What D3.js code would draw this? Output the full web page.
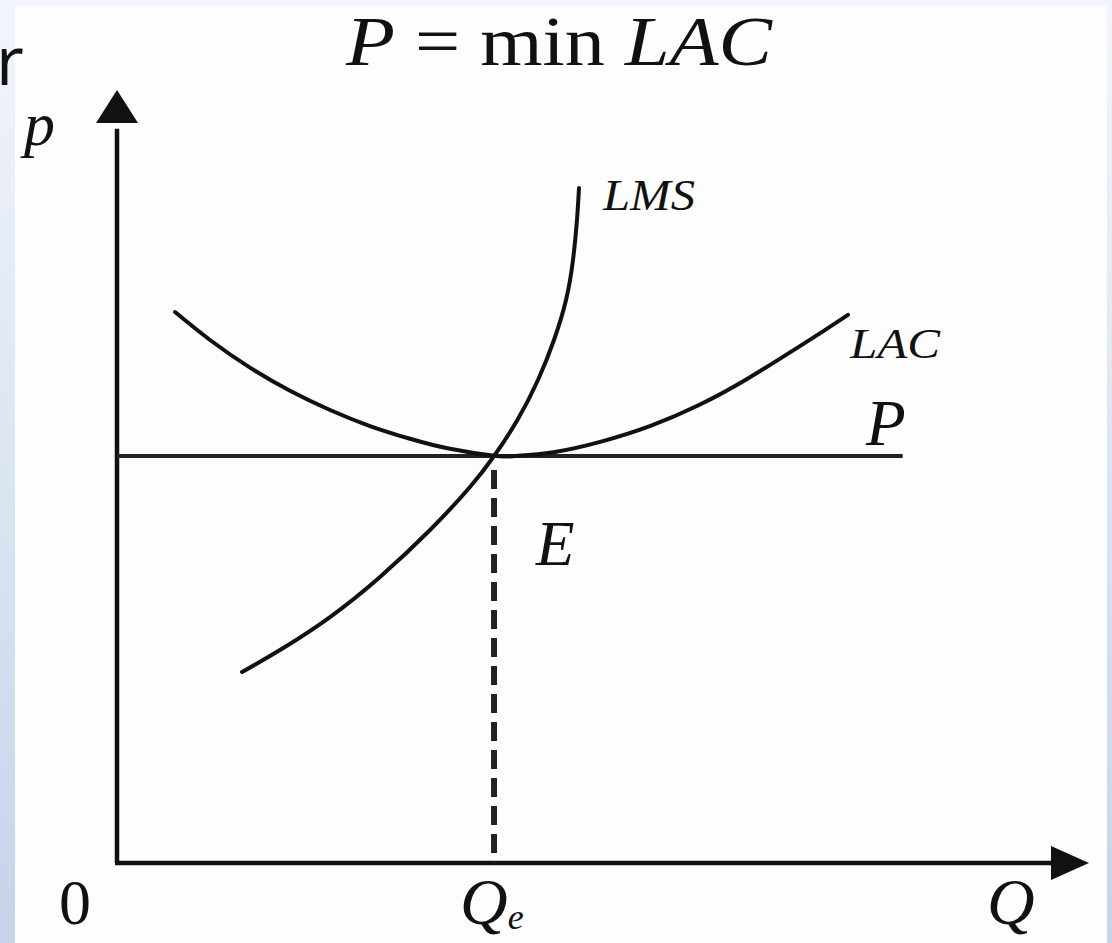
<!DOCTYPE html>
<html>
<head>
<meta charset="utf-8">
<script src="https://cdn.jsdelivr.net/npm/d3@7"></script>
<style>
  html, body { margin: 0; padding: 0; background: #fff; }
  svg { display: block; }
  .serif { font-family: "Liberation Serif", "Times New Roman", serif; fill: #111; }
</style>
</head>
<body>
<div id="chart"></div>
<script>
// ── Data (arbitrary units 0–100) ─────────────────────────────────
const priceLevel = 52.65;     // horizontal P line
const priceLineEnd = 81;      // where the P line stops
const qEquilibrium = 38.87;   // Qe

// LAC: U-shaped long-run average cost
const lacQ = [5.98, 9.59, 13.71, 17.84, 21.96, 26.08, 30.21, 34.33, 38.87, 41.0, 45.0, 50.0, 55.0, 60.0, 65.0, 70.0, 72.78, 75.36];
const lacP = [71.28, 67.66, 64.09, 61.09, 58.60, 56.53, 54.88, 53.58, 52.68, 52.65, 53.15, 54.55, 56.55, 59.25, 62.65, 66.55, 68.77, 70.91];

// LMS: long-run market supply, steepening upward
const lmsQ = [12.89, 16.80, 21.96, 27.11, 32.27, 36.39, 38.87, 41.28, 43.40, 45.05, 46.29, 47.01, 47.42, 47.63];
const lmsP = [24.71, 27.55, 31.82, 37.00, 43.08, 48.64, 52.65, 57.31, 62.48, 67.66, 72.83, 78.01, 83.18, 87.32];

// ── Setup ────────────────────────────────────────────────────────
const W = 1112, H = 943;
const x = d3.scaleLinear().domain([0, 100]).range([117, 1087]);
const y = d3.scaleLinear().domain([0, 100]).range([863, 90]);

const svg = d3.select("#chart").append("svg")
  .attr("width", W).attr("height", H);

// slide background + picture frame
const grad = svg.append("defs").append("linearGradient")
  .attr("id", "bg").attr("x1", 0).attr("y1", 0).attr("x2", 0).attr("y2", 1);
grad.append("stop").attr("offset", "0%").attr("stop-color", "#f2f5fb");
grad.append("stop").attr("offset", "100%").attr("stop-color", "#c5d4ea");
svg.append("rect").attr("width", W).attr("height", H).attr("fill", "url(#bg)");

svg.append("rect")
  .attr("x", 15).attr("y", 6)
  .attr("width", 1092).attr("height", H - 6)
  .attr("fill", "#fcfdfc");

// stray slide letter at the left edge
svg.append("text")
  .attr("x", -4).attr("y", 85)
  .style("font-family", "'Open Sans', 'DejaVu Sans', sans-serif")
  .style("font-size", "68px")
  .attr("fill", "#111")
  .text("r");

const ink = "#111";

// ── Axes ─────────────────────────────────────────────────────────
svg.append("line")
  .attr("x1", x(0)).attr("y1", y(0))
  .attr("x2", x(0)).attr("y2", y(95))
  .attr("stroke", ink).attr("stroke-width", 4.5);
svg.append("line")
  .attr("x1", x(0) - 2).attr("y1", y(0))
  .attr("x2", x(97)).attr("y2", y(0))
  .attr("stroke", ink).attr("stroke-width", 4.5);

// arrow heads
svg.append("path")
  .attr("d", `M${x(0)},${y(100)} L${x(0) - 21},${y(100) + 33} L${x(0) + 21},${y(100) + 33} Z`)
  .attr("fill", ink);
svg.append("path")
  .attr("d", `M${x(100) + 2},${y(0)} L${x(100) - 36},${y(0) - 17} L${x(100) - 36},${y(0) + 17} Z`)
  .attr("fill", ink);

// ── Price line & equilibrium ────────────────────────────────────
svg.append("line")
  .attr("x1", x(0)).attr("y1", y(priceLevel))
  .attr("x2", x(priceLineEnd)).attr("y2", y(priceLevel))
  .attr("stroke", "#222").attr("stroke-width", 4);

svg.append("line")
  .attr("x1", x(qEquilibrium)).attr("y1", y(priceLevel) + 14)
  .attr("x2", x(qEquilibrium)).attr("y2", y(0))
  .attr("stroke", "#222").attr("stroke-width", 6)
  .attr("stroke-dasharray", "19,9");

// ── Curves ──────────────────────────────────────────────────────
const line = d3.line()
  .x(d => x(d[0]))
  .y(d => y(d[1]))
  .curve(d3.curveNatural);

svg.append("path")
  .datum(d3.zip(lacQ, lacP))
  .attr("d", line)
  .attr("fill", "none").attr("stroke", ink).attr("stroke-width", 4)
  .attr("stroke-linecap", "round");

svg.append("path")
  .datum(d3.zip(lmsQ, lmsP))
  .attr("d", line)
  .attr("fill", "none").attr("stroke", ink).attr("stroke-width", 4)
  .attr("stroke-linecap", "round");

// ── Labels ──────────────────────────────────────────────────────
function label(tx, ty, size, italic, str, len) {
  const t = svg.append("text").attr("class", "serif")
    .attr("x", tx).attr("y", ty)
    .style("font-size", size + "px")
    .style("font-style", italic ? "italic" : "normal")
    .text(str);
  if (len) t.attr("textLength", len).attr("lengthAdjust", "spacingAndGlyphs");
  return t;
}

// title  P = min LAC
const title = svg.append("text").attr("class", "serif")
  .attr("x", 346).attr("y", 65)
  .style("font-size", "69px")
  .attr("textLength", 426).attr("lengthAdjust", "spacingAndGlyphs");
title.append("tspan").style("font-style", "italic").text("P");
title.append("tspan").text(" = min ");
title.append("tspan").style("font-style", "italic").text("LAC");

label(603, 210, 45, true, "LMS", 92);
label(850, 358, 42, true, "LAC", 90);
label(866, 445, 65, true, "P");
label(536, 565, 63, true, "E");
label(24, 145, 62, true, "p");

svg.append("text").attr("class", "serif")
  .attr("x", 75).attr("y", 924)
  .attr("text-anchor", "middle")
  .style("font-size", "64px")
  .text("0");

const qe = svg.append("text").attr("class", "serif")
  .attr("x", 460).attr("y", 924)
  .style("font-size", "66px").style("font-style", "italic");
qe.append("tspan").text("Q");
qe.append("tspan").attr("dy", 5).style("font-size", "36px").text("e");

label(987, 924, 66, true, "Q");
</script>
</body>
</html>
